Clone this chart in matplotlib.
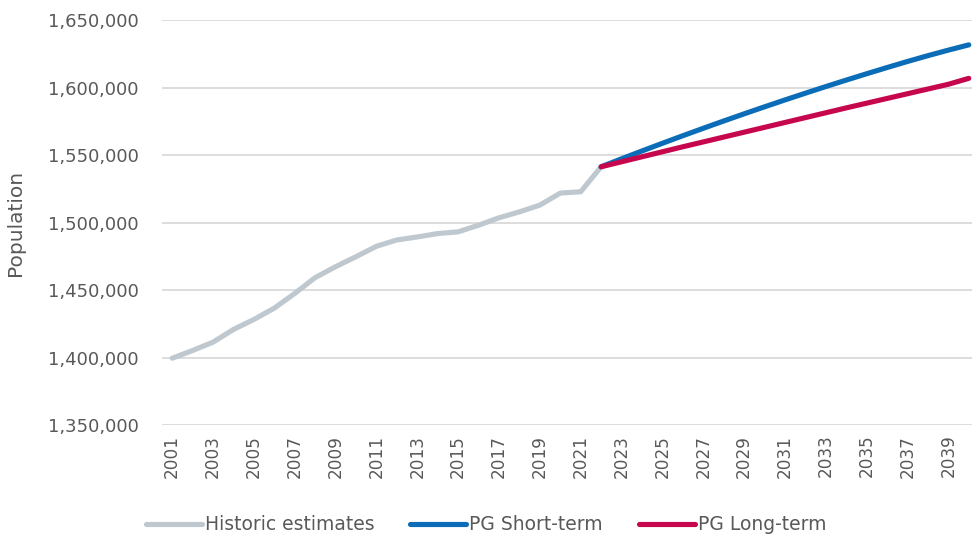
import matplotlib

matplotlib.use("Agg")

import matplotlib.pyplot as plt
import matplotlib.ticker as mticker


# Historic estimates, 2001-2022
hist_years = list(range(2001, 2023))
hist_pop = [
    1399500, 1405200, 1411400, 1420800, 1428200, 1436600, 1447500, 1459200,
    1467300, 1474700, 1482400, 1487100, 1489300, 1491800, 1493100, 1498000,
    1503500, 1507900, 1512900, 1521800, 1522800, 1541300,
]

# Projections, 2022-2040
proj_years = list(range(2022, 2041))
short_term = [
    1541300, 1547200, 1553000, 1558700, 1564300, 1569800, 1575200, 1580500,
    1585700, 1590800, 1595800, 1600700, 1605500, 1610200, 1614800, 1619300,
    1623600, 1627700, 1631600,
]
long_term = [
    1541300, 1545000, 1548700, 1552400, 1556100, 1559700, 1563300, 1566900,
    1570500, 1574100, 1577700, 1581300, 1584900, 1588400, 1591900, 1595400,
    1598900, 1602400, 1606800,
]

x_ticks = list(range(2001, 2041, 2))
y_ticks = list(range(1350000, 1650001, 50000))

COLORS = {
    "hist": "#BEC8CE",
    "short": "#0B6DB7",
    "long": "#C7074D",
    "grid": "#DADADA",
    "text": "#595959",
}

plt.rcParams["font.family"] = ["DejaVu Sans"]

fig = plt.figure(figsize=(9.72, 5.41), dpi=100, facecolor="white")
ax = fig.add_axes([0.1667, 0.2144, 0.8405, 0.7486])

line_kw = dict(linewidth=3.7, solid_capstyle="round", solid_joinstyle="round")
ax.plot(hist_years, hist_pop, color=COLORS["hist"], label="Historic estimates", **line_kw)
ax.plot(proj_years, short_term, color=COLORS["short"], label="PG Short-term", **line_kw)
ax.plot(proj_years, long_term, color=COLORS["long"], label="PG Long-term", **line_kw)

ax.set_xlim(2000.5, 2040.5)
ax.set_ylim(1350000, 1650000)
ax.set_xticks(x_ticks)
ax.set_xticklabels([str(y) for y in x_ticks], rotation=90)
ax.set_yticks(y_ticks)
ax.yaxis.set_major_formatter(mticker.StrMethodFormatter("{x:,.0f}"))

ax.grid(axis="y", color=COLORS["grid"], linewidth=1.3)
ax.set_axisbelow(True)
for spine in ax.spines.values():
    spine.set_visible(False)

ax.tick_params(axis="y", length=0, pad=17, labelsize=13, labelcolor=COLORS["text"])
ax.tick_params(axis="x", length=0, pad=7, labelsize=12.2, labelcolor=COLORS["text"])

ax.set_ylabel("Population", fontsize=14.5, color=COLORS["text"])
ax.yaxis.set_label_coords(-0.168, 0.5)

leg = fig.legend(
    loc="center",
    bbox_to_anchor=(0.5, 0.03),
    ncol=3,
    frameon=False,
    fontsize=13.5,
    handlelength=3.0,
    handletextpad=0.15,
    columnspacing=1.9,
)
for text in leg.get_texts():
    text.set_color(COLORS["text"])

fig.savefig("out.png", dpi=100, facecolor="white")
